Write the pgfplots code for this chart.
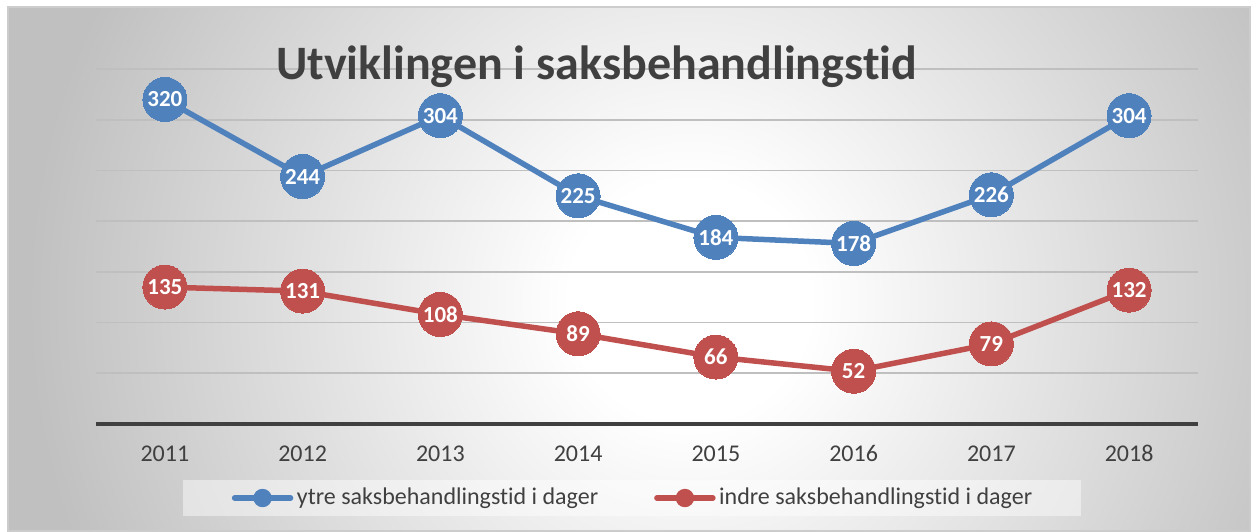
\documentclass[border=0pt]{standalone}
\usepackage{pgfplots}
\pgfplotsset{compat=1.18}
\usepackage{fontspec}
\setmainfont{Carlito}[Ligatures=NoCommon]
\definecolor{cblue}{HTML}{4F81BD}
\definecolor{cred}{HTML}{C0504D}
\definecolor{ctext}{HTML}{404040}
\definecolor{cgrid}{HTML}{BFBFBF}
\definecolor{cbg}{HTML}{C0C0C0}
\pgfdeclareradialshading{bgshade}{\pgfpointorigin}{color(0bp)=(white); color(60bp)=(white); color(330bp)=(cbg); color(460bp)=(cbg)}
\begin{document}
\begin{tikzpicture}
\useasboundingbox (0,0) rectangle (628.5pt,265.5pt);
\fill[white] (0,0) rectangle (628.5pt,265.5pt);
\begin{scope}
\clip (4pt,0pt) rectangle (625pt,262pt);
\pgftext[at=\pgfpoint{345pt}{115pt}]{\pgfuseshading{bgshade}};
\end{scope}
\draw[color=black!20, line width=0.6pt] (4pt,0pt) rectangle (625pt,262pt);
\begin{axis}[
  at={(48pt,53.5pt)}, anchor=south west,
  scale only axis, width=551pt, height=177.5pt,
  xmin=-0.5, xmax=7.5, ymin=0, ymax=350,
  xtick={0,...,7}, xticklabels={2011,2012,2013,2014,2015,2016,2017,2018},
  ytick={50,100,...,350}, yticklabels={},
  ymajorgrids, grid style={cgrid, line width=0.8pt},
  axis x line*=bottom, axis y line*=left,
  y axis line style={draw=none},
  x axis line style={ctext, line width=2pt},
  major tick length=0pt,
  xticklabel style={font=\fontsize{12pt}{14pt}\selectfont, text=ctext, anchor=base, yshift=-18.85pt},
  clip=false,
  /pgf/number format/assume math mode=true,
  nodes near coords,
  every node near coord/.append style={anchor=center, text=white, font=\bfseries\fontsize{11.5pt}{14pt}\selectfont},
  legend columns=2,
  legend style={at={(0.4864,-0.2085)}, anchor=center, draw=none, fill=white, fill opacity=0.45, text opacity=1,
    font=\fontsize{12pt}{14pt}\selectfont, text=ctext, inner xsep=24.5pt, inner ysep=4pt,
    nodes={inner sep=0pt},
    /tikz/every odd column/.append style={column sep=1.75pt},
    /tikz/every even column/.append style={column sep=28pt}},
]
\addplot[cblue, line width=2.75pt, mark=*, mark size=11pt, mark options={solid, fill=cblue, draw=cblue, line width=0pt},
  legend image code/.code={\draw[cblue, line width=2.75pt, line cap=round] (0pt,0pt) -- (28pt,0pt); \fill[cblue, fill opacity=1] (14pt,0pt) circle (3.2pt);}]
  coordinates {(0,320) (1,244) (2,304) (3,225) (4,184) (5,178) (6,226) (7,304)};
\addlegendentry{ytre saksbehandlingstid i dager}
\addplot[cred, line width=2.75pt, mark=*, mark size=11pt, mark options={solid, fill=cred, draw=cred, line width=0pt},
  legend image code/.code={\draw[cred, line width=2.75pt, line cap=round] (0pt,0pt) -- (28pt,0pt); \fill[cred, fill opacity=1] (14pt,0pt) circle (3.2pt);}]
  coordinates {(0,135) (1,131) (2,108) (3,89) (4,66) (5,52) (6,79) (7,132)};
\addlegendentry{indre saksbehandlingstid i dager}
\end{axis}
\node[font=\bfseries\fontsize{24pt}{28pt}\selectfont, text=ctext, anchor=base, inner sep=0pt] at (298.25pt,225.5pt) {Utviklingen i saksbehandlingstid};
\end{tikzpicture}
\end{document}
